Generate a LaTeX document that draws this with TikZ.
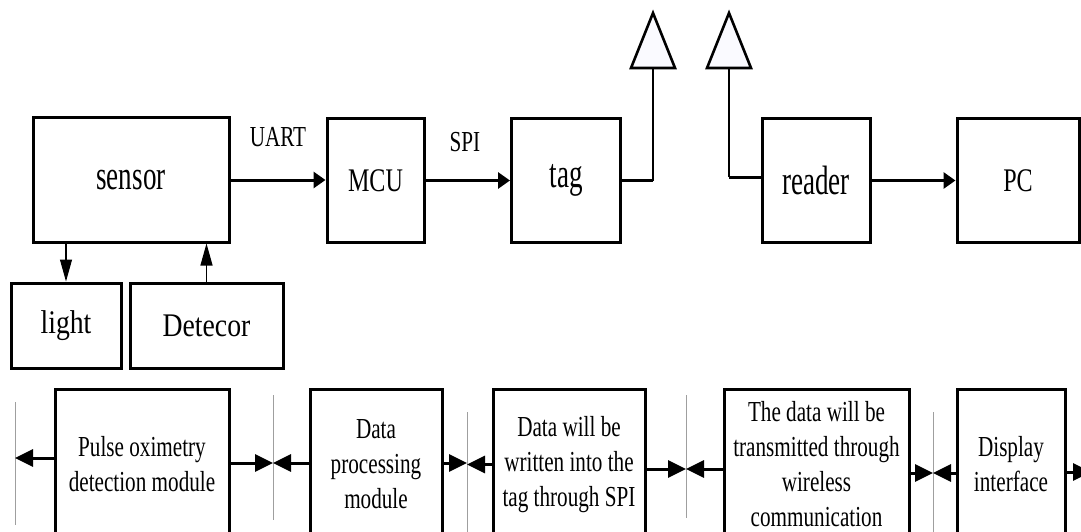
\documentclass[tikz,border=0pt]{standalone}
\usepackage{fontspec}
\setmainfont{Liberation Serif}[FakeStretch=0.73]
\newfontfamily\tallfont{Liberation Serif}[FakeStretch=0.66]
\newfontfamily\widefont{Liberation Serif}[FakeStretch=0.84]
\usetikzlibrary{arrows.meta}

\begin{document}
\begin{tikzpicture}[
  x=1pt, y=-1pt,
  blk/.style={draw,line width=3pt,inner sep=0pt,font=\fontsize{33}{40}\selectfont},
  tall/.style={font=\tallfont\fontsize{41}{48}\selectfont},
  wide/.style={font=\widefont\fontsize{33}{40}\selectfont},
  mod/.style={draw,line width=3pt,inner sep=0pt,align=center,minimum height=151pt,font=\fontsize{29}{35}\selectfont},
  lbl/.style={inner sep=0pt,font=\fontsize{29}{32}\selectfont},
  bus/.style={line width=3pt,-{Triangle[length=12pt,width=16pt]}},
  sig/.style={line width=1.1pt,-{Triangle[length=22pt,width=12pt]}},
  link/.style={line width=3pt,-{Triangle[length=18pt,width=17pt]}},
  stub/.style={line width=3pt},
  feed/.style={line width=1.3pt},
  divider/.style={line width=1pt,gray!75},
  ant/.style={line width=2.6pt,fill=blue!2,line join=miter},
]
  \useasboundingbox (0,0) rectangle (1081,532);

  \node[blk,tall,minimum width=196pt,minimum height=124pt] (sensor)   at (131,180)     {sensor};
  \node[blk,wide,minimum width=110pt,minimum height=85pt]  (light)    at (66,325.5)    {light};
  \node[blk,wide,minimum width=153pt,minimum height=85pt]  (detector) at (206.5,325.5) {Detecor};
  \node[blk,minimum width=97pt,minimum height=123pt]       (mcu)      at (375.5,180.5) {MCU};
  \node[blk,tall,minimum width=109pt,minimum height=123pt] (tag)      at (566,180.5)   {tag};
  \node[blk,tall,minimum width=108pt,minimum height=123pt] (reader)   at (816,180.5)   {reader};
  \node[blk,minimum width=122pt,minimum height=123pt]      (pc)       at (1018,180.5)  {PC};

  \node[lbl] (uart) at (278,137) {UART};
  \node[lbl] (spi)  at (465,142) {SPI};

  \draw[bus] (sensor.east) -- (sensor.east -| mcu.west);
  \draw[bus] (mcu.east) -- (mcu.east -| tag.west);
  \draw[bus] (reader.east) -- (reader.east -| pc.west);
  \draw[sig] (sensor.south -| light.north) -- (light.north);
  \draw[sig] (detector.north) -- (detector.north |- sensor.south);

  \coordinate (ant1) at (653,68);
  \coordinate (ant2) at (729,68);
  \foreach \a in {ant1,ant2}
    \draw[ant] (\a) ++(-22,0) -- ++(22,-55) -- ++(22,55) -- cycle;
  \coordinate (rx) at ([yshift=3.5pt]reader.west);
  \draw[feed] (ant1) -- (ant1 |- tag.east);
  \draw[stub] (ant1 |- tag.east) -- (tag.east);
  \draw[feed] (ant2) -- (ant2 |- rx);
  \draw[stub] (ant2 |- rx) -- (rx);

  \node[mod,minimum width=174pt] (pulse)    at (142,464.5)   {Pulse oximetry\\detection module};
  \node[mod,minimum width=132pt] (proc)     at (376,464.5)   {Data\\processing\\module};
  \node[mod,minimum width=152pt] (write)    at (569,464.5)   {Data will be\\written into the\\tag through SPI};
  \node[mod,minimum width=185pt] (wireless) at (816.5,464.5) {The data will be\\transmitted through\\wireless\\communication};
  \node[mod,minimum width=108pt] (display)  at (1011,464.5)  {Display\\interface};

  \foreach \n/\x/\t/\b in {0/15/402/525, 1/273/395/520, 2/467/412/540, 3/686/395/518, 4/933/412/540} {
    \coordinate (d\n) at (\x,\t);
    \draw[divider] (d\n) -- (\x,\b);
  }
  \coordinate (out) at (1091,472);

  \draw[link] ([yshift=6.5pt]pulse.west) -- ([yshift=6.5pt]pulse.west -| d0);
  \draw[link] ([yshift=1.5pt]pulse.east) -- ([yshift=1.5pt]pulse.east -| d1);
  \draw[link] ([yshift=1.5pt]proc.west) -- ([yshift=1.5pt]proc.west -| d1);
  \draw[link] ([yshift=1.5pt]proc.east) -- ([yshift=1.5pt]proc.east -| d2);
  \draw[link] (write.west) -- (write.west -| d2);
  \draw[link] ([yshift=-4.5pt]write.east) -- ([yshift=-4.5pt]write.east -| d3);
  \draw[link] ([yshift=-4.5pt]wireless.west) -- ([yshift=-4.5pt]wireless.west -| d3);
  \draw[link] ([yshift=-8.5pt]wireless.east) -- ([yshift=-8.5pt]wireless.east -| d4);
  \draw[link] ([yshift=-8.5pt]display.west) -- ([yshift=-8.5pt]display.west -| d4);
  \draw[link] (display.east |- out) -- (out);
\end{tikzpicture}
\end{document}
